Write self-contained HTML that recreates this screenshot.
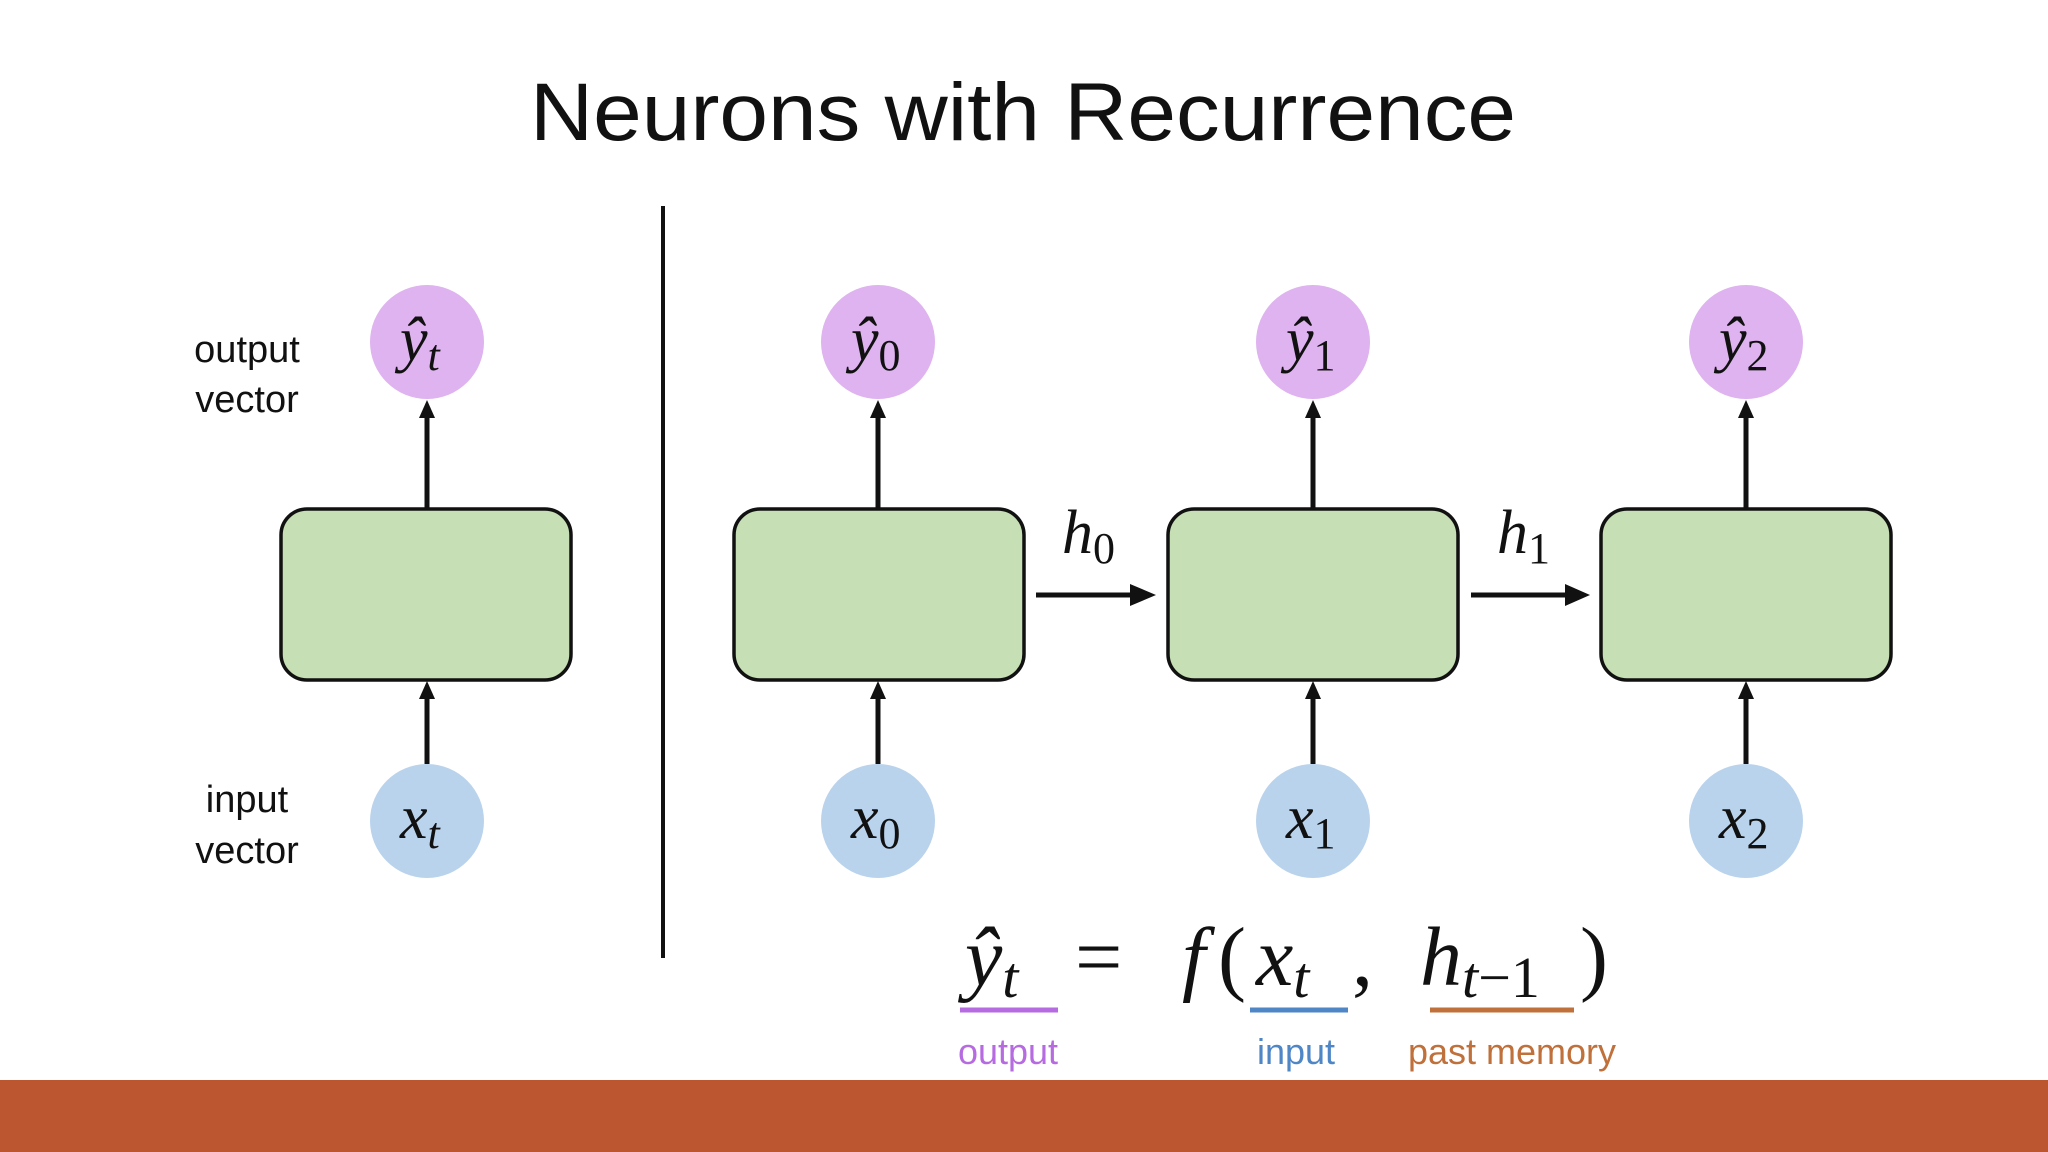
<!DOCTYPE html>
<html><head><meta charset="utf-8"><style>
html,body{margin:0;padding:0;background:#fff;}
svg{display:block}
</style></head><body>
<svg width="2048" height="1152" viewBox="0 0 2048 1152" xmlns="http://www.w3.org/2000/svg">
<rect width="2048" height="1152" fill="#fff"/>
<text x="1023" y="140" font-family="Liberation Sans, sans-serif" font-size="82" text-anchor="middle" textLength="986" lengthAdjust="spacingAndGlyphs" fill="#111">Neurons with Recurrence</text>
<line x1="663" y1="206" x2="663" y2="958" stroke="#111" stroke-width="4"/>
<rect x="0" y="1080" width="2048" height="72" fill="#BC5630"/>

<g fill="#C6DFB4" stroke="#111" stroke-width="3.5">
<rect x="281" y="509" width="290" height="171" rx="26"/>
<rect x="734" y="509" width="290" height="171" rx="26"/>
<rect x="1168" y="509" width="290" height="171" rx="26"/>
<rect x="1601" y="509" width="290" height="171" rx="26"/>
</g>

<g fill="#DEB3EF">
<circle cx="427" cy="342" r="57"/><circle cx="878" cy="342" r="57"/><circle cx="1313" cy="342" r="57"/><circle cx="1746" cy="342" r="57"/>
</g>
<g fill="#BAD3EC">
<circle cx="427" cy="821" r="57"/><circle cx="878" cy="821" r="57"/><circle cx="1313" cy="821" r="57"/><circle cx="1746" cy="821" r="57"/>
</g>

<g stroke="#111" stroke-width="5">
<line x1="427" y1="509" x2="427" y2="415"/><line x1="878" y1="509" x2="878" y2="415"/><line x1="1313" y1="509" x2="1313" y2="415"/><line x1="1746" y1="509" x2="1746" y2="415"/>
<line x1="427" y1="764" x2="427" y2="695"/><line x1="878" y1="764" x2="878" y2="695"/><line x1="1313" y1="764" x2="1313" y2="695"/><line x1="1746" y1="764" x2="1746" y2="695"/>
<line x1="1036" y1="595" x2="1135" y2="595"/><line x1="1471" y1="595" x2="1570" y2="595"/>
</g>
<g fill="#111">
<polygon points="419,418 435,418 427,400"/><polygon points="870,418 886,418 878,400"/><polygon points="1305,418 1321,418 1313,400"/><polygon points="1738,418 1754,418 1746,400"/>
<polygon points="419,699 435,699 427,681"/><polygon points="870,699 886,699 878,681"/><polygon points="1305,699 1321,699 1313,681"/><polygon points="1738,699 1754,699 1746,681"/>
<polygon points="1130,584 1130,606 1156,595"/><polygon points="1565,584 1565,606 1590,595"/>
</g>

<g font-family="Liberation Serif, serif" font-style="italic" fill="#111" font-size="62">
<text x="400" y="360">ŷ<tspan font-size="44" dy="10">t</tspan></text>
<text x="851" y="360">ŷ<tspan font-size="44" dy="10" font-style="normal">0</tspan></text>
<text x="1286" y="360">ŷ<tspan font-size="44" dy="10" font-style="normal">1</tspan></text>
<text x="1719" y="360">ŷ<tspan font-size="44" dy="10" font-style="normal">2</tspan></text>
<text x="400" y="838">x<tspan font-size="44" dy="10">t</tspan></text>
<text x="851" y="838">x<tspan font-size="44" dy="10" font-style="normal">0</tspan></text>
<text x="1286" y="838">x<tspan font-size="44" dy="10" font-style="normal">1</tspan></text>
<text x="1719" y="838">x<tspan font-size="44" dy="10" font-style="normal">2</tspan></text>
<text x="1062" y="553">h<tspan font-size="44" dy="10" font-style="normal">0</tspan></text>
<text x="1497" y="553">h<tspan font-size="44" dy="10" font-style="normal">1</tspan></text>
</g>

<g font-family="Liberation Sans, sans-serif" font-size="38" fill="#111" text-anchor="middle">
<text x="247" y="362">output</text><text x="247" y="412">vector</text>
<text x="247" y="812">input</text><text x="247" y="863">vector</text>
</g>

<g font-family="Liberation Serif, serif" font-style="italic" fill="#111" font-size="84">
<text x="965" y="985">ŷ<tspan font-size="58" dy="12">t</tspan></text>
<text x="1075" y="985" font-style="normal">=</text>
<text x="1182" y="985">f</text>
<text x="1218" y="985" font-style="normal">(</text>
<text x="1256" y="985">x<tspan font-size="58" dy="12">t</tspan></text>
<text x="1352" y="985" font-style="normal">,</text>
<text x="1420" y="985">h<tspan font-size="58" dy="12">t<tspan font-style="normal">−1</tspan></tspan></text>
<text x="1580" y="985" font-style="normal">)</text>
</g>
<line x1="960" y1="1010" x2="1058" y2="1010" stroke="#B66CE0" stroke-width="5"/>
<line x1="1250" y1="1010" x2="1348" y2="1010" stroke="#4F86C6" stroke-width="5"/>
<line x1="1430" y1="1010" x2="1574" y2="1010" stroke="#C0703A" stroke-width="5"/>
<g font-family="Liberation Sans, sans-serif" font-size="36" text-anchor="middle">
<text x="1008" y="1064" fill="#B66CE0">output</text>
<text x="1296" y="1064" fill="#4F86C6">input</text>
<text x="1512" y="1064" fill="#C0703A">past memory</text>
</g>
</svg>
</body></html>
